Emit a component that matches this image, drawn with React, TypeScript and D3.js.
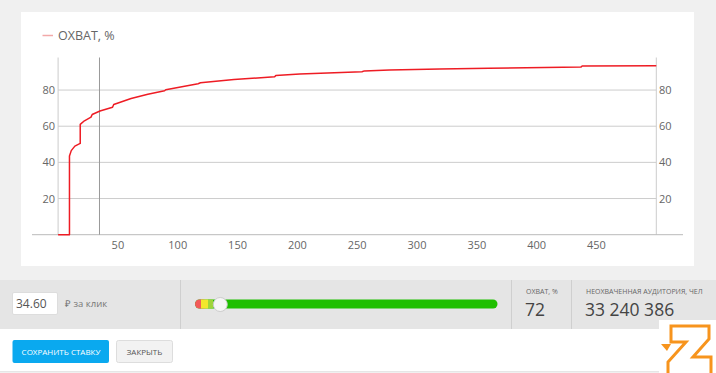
import React from "react";
import * as d3 from "d3";

const bids = [0, 9.5, 9.5, 11, 14, 18.5, 18.5, 22, 27.5, 28.5, 35, 45.5, 46.5, 61, 75, 89, 90, 117, 119, 147, 181, 182, 202, 254, 256, 277, 319, 360, 437, 438, 500];
const reach = [0, 0, 43.5, 46.5, 49, 50.5, 61, 63, 65, 66.5, 68.4, 70.5, 72, 75.3, 77.7, 79.6, 80.2, 83.5, 84, 85.9, 87.3, 88.1, 88.9, 90.1, 90.6, 91.1, 91.6, 92, 92.7, 93.3, 93.4];
const xTicks = [50, 100, 150, 200, 250, 300, 350, 400, 450];
const yTicks = [20, 40, 60, 80];
const currentBid = 34.6;
const legendLabel = "ОХВАТ, %";
const bidText = "34.60";
const reachValue = "72";
const audienceValue = "33 240 386";

const W = 716, H = 373;
const FONT = "'Open Sans', sans-serif";

export default function App() {
  const x = d3.scaleLinear().domain([0, 500]).range([58.1, 656.3]);
  const y = d3.scaleLinear().domain([0, 98]).range([234.7, 57.5]);
  const data = bids.map((b, i) => [b, reach[i]] as [number, number]);
  const line = d3.line<[number, number]>().x(d => x(d[0])).y(d => y(d[1]));
  const sliderX = d3.scaleLinear().domain([0, 500]).range([200, 493]);

  const z: [number, number][] = [
    [671, 326], [709, 326], [709, 339], [693, 357], [711, 357], [711, 376], [668, 376], [668, 362], [686, 342], [671, 342],
  ];

  return (
    <div style={{ position: "fixed", left: 0, top: 0, width: W, height: H }}>
      <svg width={W} height={H} style={{ display: "block", fontFamily: FONT }}>
        <rect x={0} y={0} width={W} height={H} fill="#f0f0f0" />
        {/* chart panel */}
        <rect x={21} y={12} width={673} height={254} fill="#ffffff" />
        {/* legend */}
        <line x1={42.5} x2={53} y1={35.5} y2={35.5} stroke="#f2a9a9" strokeWidth={1.5} />
        <text x={58} y={40} fontSize={12.5} fill="#666">{legendLabel}</text>
        {/* grid */}
        {yTicks.map(t => (
          <line key={"g" + t} x1={x(0)} x2={x(500)} y1={y(t)} y2={y(t)} stroke="#cccccc" strokeWidth={1} />
        ))}
        <line x1={x(0)} x2={x(0)} y1={y(98)} y2={y(0)} stroke="#cccccc" />
        <line x1={x(500)} x2={x(500)} y1={y(98)} y2={y(0)} stroke="#cccccc" />
        <line x1={32} x2={683} y1={y(0)} y2={y(0)} stroke="#bbbbbb" />
        {yTicks.map(t => (
          <text key={"l" + t} x={55} y={y(t) + 4} fontSize={11} fill="#666" textAnchor="end">{t}</text>
        ))}
        {yTicks.map(t => (
          <text key={"r" + t} x={659} y={y(t) + 4} fontSize={11} fill="#666">{t}</text>
        ))}
        {xTicks.map(t => (
          <text key={"x" + t} x={x(t)} y={249} fontSize={11} fill="#666" textAnchor="middle">{t}</text>
        ))}
        <line x1={x(currentBid)} x2={x(currentBid)} y1={y(98)} y2={y(0)} stroke="#999999" />
        <path d={line(data) || ""} fill="none" stroke="#ee1c24" strokeWidth={1.5} strokeLinejoin="round" />

        {/* bottom panel */}
        <rect x={0} y={280} width={W} height={49} fill="#e5e5e5" />
        <line x1={180.5} x2={180.5} y1={280} y2={329} stroke="#cfcfcf" />
        <line x1={511.5} x2={511.5} y1={280} y2={329} stroke="#cfcfcf" />
        <line x1={571.5} x2={571.5} y1={280} y2={329} stroke="#cfcfcf" />
        <rect x={12.5} y={292.5} width={45} height={22} fill="#fff" stroke="#dddddd" rx={1.5} />
        <text x={16} y={307.5} fontSize={12} fill="#555">{bidText}</text>
        <text x={65} y={307} fontSize={9.5} fill="#777">₽ за клик</text>
        {/* slider */}
        <rect x={195} y={299.5} width={302.5} height={9} rx={4.5} fill="#1fbf00" />
        <rect x={195} y={299.5} width={12} height={9} rx={4.5} fill="#f25a5a" />
        <rect x={201} y={299.5} width={7} height={9} fill="#f3e72c" />
        <rect x={208} y={299.5} width={5} height={9} fill="#9fd43a" />
        <circle cx={sliderX(currentBid)} cy={304.5} r={7} fill="#f6f6f6" stroke="#cccccc" />
        <text x={526} y={294} fontSize={7} fill="#666">ОХВАТ, %</text>
        <text x={525} y={316} fontSize={17.5} fill="#444">{reachValue}</text>
        <text x={586} y={294} fontSize={7} fill="#666">НЕОХВАЧЕННАЯ АУДИТОРИЯ, ЧЕЛ</text>
        <text x={585} y={316} fontSize={17.5} fill="#444">{audienceValue}</text>

        {/* lower area */}
        <rect x={0} y={329} width={W} height={42.5} fill="#ffffff" />
        <line x1={0} x2={W} y1={371.5} y2={371.5} stroke="#e6e6e6" />
        <rect x={12.5} y={340} width={96.5} height={23} rx={2} fill="#0aa9ef" />
        <text x={61} y={354.5} fontSize={8} fill="#fff" textAnchor="middle">СОХРАНИТЬ СТАВКУ</text>
        <rect x={116.5} y={340.5} width={56} height={22} rx={2} fill="#f2f2f2" stroke="#dddddd" />
        <text x={144.5} y={354.5} fontSize={8} fill="#555" textAnchor="middle">ЗАКРЫТЬ</text>

        {/* logo */}
        <rect x={659} y={320} width={57} height={53} fill="#ffffff" />
        <polygon points={z.map(p => p.join(",")).join(" ")} fill="#ffffff" stroke="#f7941d" strokeWidth={3} strokeLinejoin="miter" />
        <polygon points="661,344 671,344 667,351" fill="#f7941d" />
      </svg>
    </div>
  );
}
